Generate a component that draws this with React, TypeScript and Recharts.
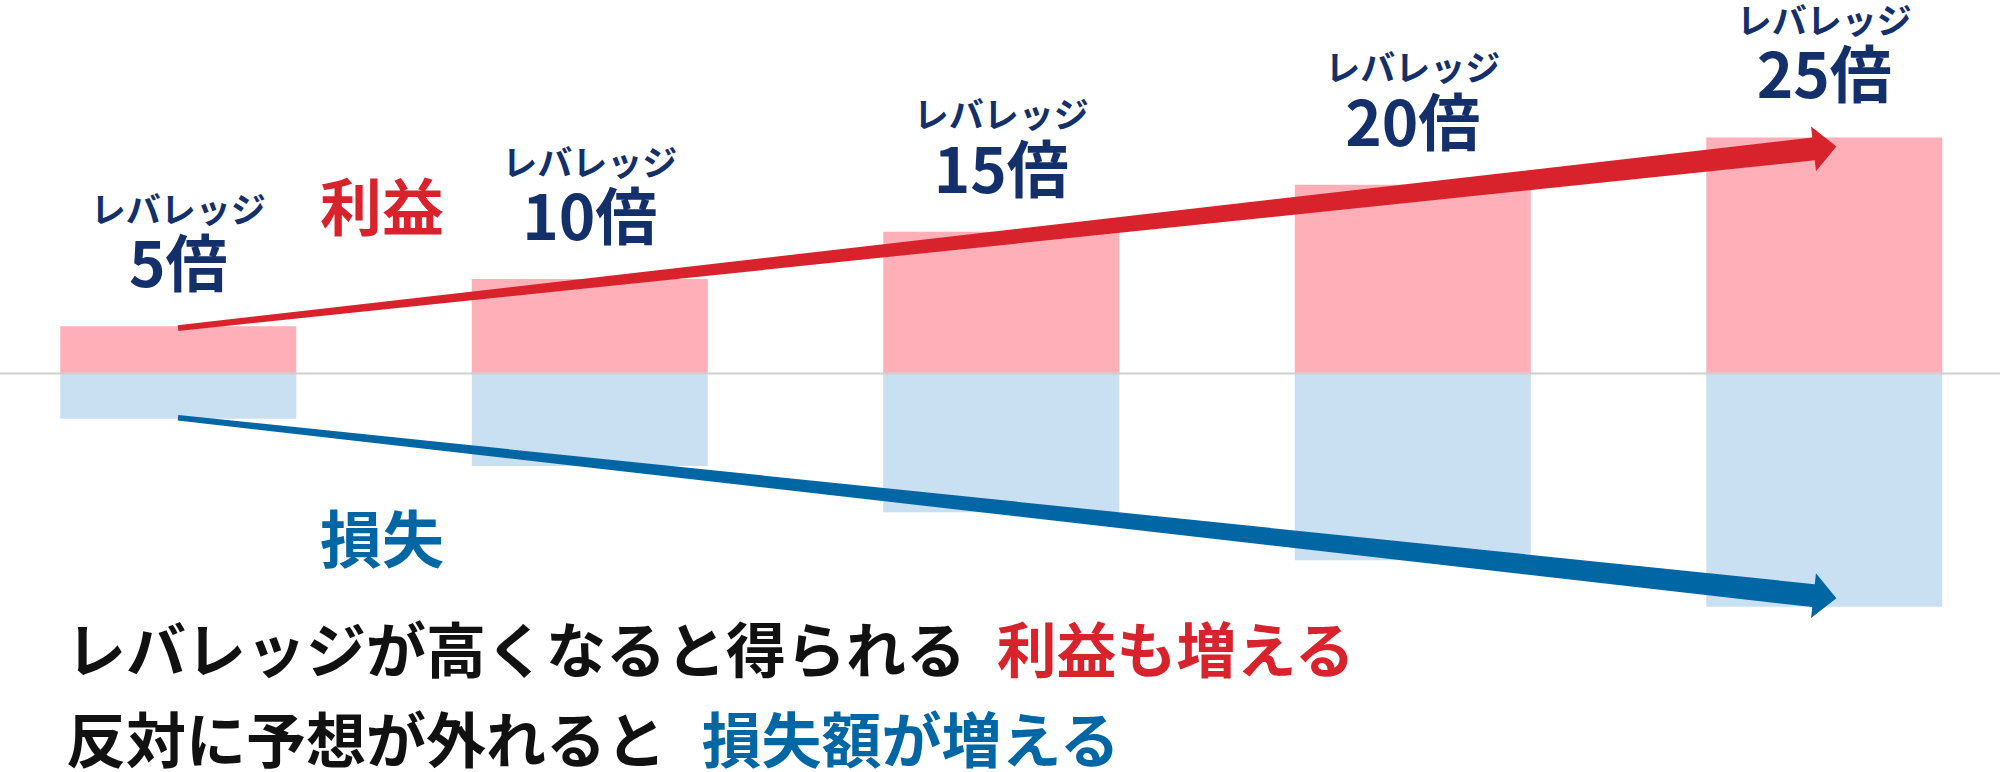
import { BarChart, Bar, XAxis, YAxis, ReferenceLine, LabelList } from "recharts";

// bar slots on a numeric x axis (1 = 5x ... 5 = 25x)
const positions = [1, 2, 3, 4, 5];
const leverageLabels = ["5倍", "10倍", "15倍", "20倍", "25倍"];
const profit = [5, 10, 15, 20, 25];
const loss = [-4.8, -9.8, -14.7, -19.8, -24.7];

// arrow endpoints in data units
const profitArrow = [
  { x: 1, y: 4.8 },
  { x: 5.03, y: 24.05 },
];
const lossArrow = [
  { x: 1, y: -4.7 },
  { x: 5.03, y: -23.8 },
];

const data = positions.map((pos, i) => ({
  pos,
  name: leverageLabels[i],
  profit: profit[i],
  loss: loss[i],
}));

const NAVY = "#14306a";
const RED = "#d9232c";
const BLUE = "#0066a4";
const FONT = '"Noto Sans CJK JP", "Noto Sans", sans-serif';

// tapered arrow drawn between the two scaled segment points
const makeArrow = (color: string) => (props: any) => {
  const { x1, y1, x2, y2 } = props;
  const len = Math.hypot(x2 - x1, y2 - y1);
  const dx = (x2 - x1) / len;
  const dy = (y2 - y1) / len;
  const nx = -dy;
  const ny = dx;
  const head = 23;
  const bx = x2 - dx * head;
  const by = y2 - dy * head;
  const pts = [
    [x1 + nx * 2.8, y1 + ny * 2.8],
    [bx + nx * 11.5, by + ny * 11.5],
    [bx + nx * 22.5, by + ny * 22.5],
    [x2, y2],
    [bx - nx * 22.5, by - ny * 22.5],
    [bx - nx * 11.5, by - ny * 11.5],
    [x1 - nx * 2.8, y1 - ny * 2.8],
  ];
  return <polygon points={pts.map((p) => p.join(",")).join(" ")} fill={color} />;
};

const renderLabel = (props: any) => {
  const { x, y, width, value } = props;
  const cx = Number(x) + Number(width) / 2;
  const top = Number(y);
  return (
    <g>
      <text
        x={cx}
        y={top - 119}
        textAnchor="middle"
        dominantBaseline="central"
        fontFamily={FONT}
        fontSize={35}
        fontWeight={700}
        fill={NAVY}
      >
        レバレッジ
      </text>
      <text
        x={cx}
        y={top - 66}
        textAnchor="middle"
        dominantBaseline="central"
        fontFamily={FONT}
        fontSize={62}
        fontWeight={700}
        fill={NAVY}
      >
        {value}
      </text>
    </g>
  );
};

const note = (left: number, top: number, color: string): React.CSSProperties => ({
  position: "absolute",
  left,
  top,
  transform: "translate(-50%, -50%)",
  fontFamily: FONT,
  fontWeight: 700,
  fontSize: 62,
  lineHeight: 1,
  color,
  whiteSpace: "nowrap",
});

const lineStyle = (top: number): React.CSSProperties => ({
  position: "absolute",
  left: 66,
  top,
  transform: "translateY(-50%)",
  fontFamily: FONT,
  fontWeight: 700,
  fontSize: 60,
  lineHeight: 1,
  color: "#111111",
  whiteSpace: "nowrap",
});

export default function App() {
  return (
    <div style={{ position: "relative", width: 2000, height: 772, background: "#fff", overflow: "hidden" }}>
      <style>{`body{margin:0}`}</style>
      <BarChart
        width={2000}
        height={772}
        data={data}
        stackOffset="sign"
        margin={{ top: 5.3, right: 0, bottom: 11.5, left: 0 }}
      >
        <XAxis dataKey="pos" type="number" domain={[0.5674, 5.4276]} allowDataOverflow hide />
        <YAxis type="number" domain={[-41, 39]} allowDataOverflow hide />
        <Bar dataKey="profit" stackId="a" fill="#ffafb8" barSize={236} isAnimationActive={false}>
          <LabelList dataKey="name" content={renderLabel} />
        </Bar>
        <Bar dataKey="loss" stackId="a" fill="#c9dff2" barSize={236} isAnimationActive={false} />
        <ReferenceLine y={0} stroke="#cfcfcf" strokeWidth={2} />
        <ReferenceLine segment={profitArrow} shape={makeArrow(RED)} ifOverflow="visible" />
        <ReferenceLine segment={lossArrow} shape={makeArrow(BLUE)} ifOverflow="visible" />
      </BarChart>
      <div style={note(382, 204, RED)}>利益</div>
      <div style={note(382, 536, BLUE)}>損失</div>
      <div style={lineStyle(647)}>
        レバレッジが高くなると得られる <span style={{ color: RED, marginLeft: 17 }}>利益も増える</span>
      </div>
      <div style={lineStyle(737)}>
        反対に予想が外れると <span style={{ color: BLUE, marginLeft: 22 }}>損失額が増える</span>
      </div>
    </div>
  );
}
